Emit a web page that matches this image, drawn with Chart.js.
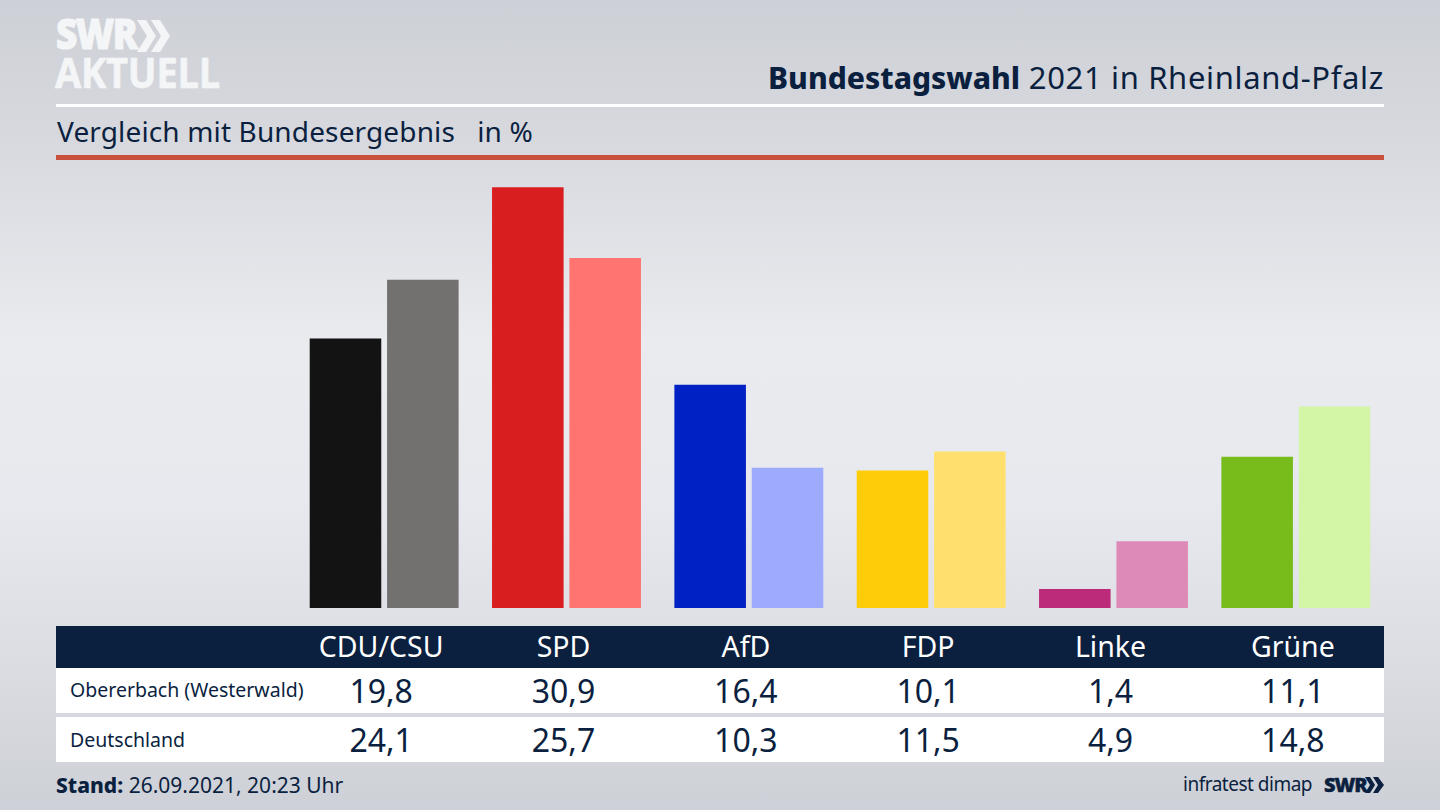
<!DOCTYPE html>
<html lang="de"><head><meta charset="utf-8">
<script src="https://cdn.jsdelivr.net/npm/chart.js@4"></script>
<style>
html,body{margin:0;padding:0}
body{width:1440px;height:810px;overflow:hidden;position:relative;font-family:"Noto Sans",sans-serif;color:#0b1f3f;
background:linear-gradient(180deg,#cdd0d6 0%,#d6d8de 16%,#e9ebef 42%,#e7e9ee 62%,#dcdee4 80%,#cdd0d6 100%)}
.a{position:absolute;white-space:pre;line-height:1}
#chartBox{position:absolute;left:293px;top:160px;width:1094px;height:448px}
.c{transform:translateX(-50%);text-align:center}
.r{transform:translateX(-100%)}
</style></head><body>
<div class="a" style="left:56px;top:16px;font:800 37px/40px 'Open Sans',sans-serif;color:#f4f5f7;letter-spacing:-1.5px;-webkit-text-stroke:1px #f4f5f7;transform:scaleY(1.16);transform-origin:0 100%">SWR</div>
<svg class="a" style="left:137px;top:20px" width="34" height="32"><path d="M0 0H9L19 16L9 32H0L10 16ZM14 0H23L33 16L23 32H14L24 16Z" fill="#f4f5f7"/></svg>
<div class="a" style="left:55px;top:53px;font:700 38px/40px 'Open Sans',sans-serif;color:#f4f5f7;letter-spacing:-.2px;-webkit-text-stroke:.6px #f4f5f7;transform:scaleY(1.09);transform-origin:0 100%">AKTUELL</div>
<div class="a r" style="left:1384px;top:62px;font-size:31px;letter-spacing:.65px"><b style="font-weight:800;font-size:30px;letter-spacing:0">Bundestagswahl</b> 2021 in Rheinland-Pfalz</div>
<div class="a" style="left:56px;top:104px;width:1328px;height:3px;background:#fff"></div>
<div class="a" style="left:57px;top:117px;font-size:28px;letter-spacing:.14px">Vergleich mit Bundesergebnis   in %</div>
<div class="a" style="left:56px;top:155px;width:1328px;height:5px;background:#c9503c"></div>
<div id="chartBox"><canvas id="chart"></canvas></div>
<div class="a" style="left:56px;top:626px;width:1328px;height:42px;background:#0b1f3f"></div>
<div class="a" style="left:56px;top:668px;width:1328px;height:45px;background:#fff"></div>
<div class="a" style="left:56px;top:717px;width:1328px;height:45px;background:#fff"></div>
<div id="table"></div>
<div class="a" style="left:56px;top:775px;font-size:21px"><b style="font-weight:800">Stand:</b> 26.09.2021, 20:23 Uhr</div>
<div class="a r" style="left:1312px;top:775px;font-size:19px;letter-spacing:-.5px">infratest dimap</div>
<div class="a" style="left:1324px;top:773px;font:800 20px/24px 'Open Sans',sans-serif;letter-spacing:-1px;-webkit-text-stroke:.4px #0b1f3f">SWR</div>
<svg class="a" style="left:1365px;top:777px" width="20" height="16"><path d="M0 0H5L10 8L5 16H0L5 8ZM8 0H13L19 8L13 16H8L13 8Z" fill="#0b1f3f"/></svg>
<script>
const categories=["CDU/CSU","SPD","AfD","FDP","Linke","Grüne"];
const rowLabels=["Obererbach (Westerwald)","Deutschland"];
const obererbach=[19.8,30.9,16.4,10.1,1.4,11.1];
const deutschland=[24.1,25.7,10.3,11.5,4.9,14.8];
const colorsLocal=["#131313","#d81e1e","#0021c4","#ffcc0a","#bc2b7a","#78bc1c"];
const colorsNational=["#737170","#ff7370","#9dabff","#ffe06e","#de8ab8","#d2f5a6"];
const fmt=v=>v.toFixed(1).replace(".",",");
const ds=(data,backgroundColor)=>({data,backgroundColor,borderWidth:0,categoryPercentage:.8485,barPercentage:.925});
const chart=new Chart(document.getElementById("chart"),{type:"bar",
 data:{labels:categories,datasets:[ds(obererbach,colorsLocal),ds(deutschland,colorsNational)]},
 options:{responsive:true,maintainAspectRatio:false,animation:false,
  layout:{padding:0},
  plugins:{legend:{display:false},tooltip:{enabled:false}},
  scales:{x:{display:false},y:{display:false,min:0,max:32.9}}}});
const t=document.getElementById("table");
const add=(txt,cls,style)=>{const d=document.createElement("div");d.className="a "+cls;d.textContent=txt;d.style.cssText=style;t.appendChild(d)};
categories.forEach((c,i)=>{
 const x=290+chart.scales.x.getPixelForValue(i);
 add(c,"c",`left:${x}px;top:632px;font-size:28.5px;color:#fff`);
 add(fmt(obererbach[i]),"c",`left:${x}px;top:675px;font-size:32px`);
 add(fmt(deutschland[i]),"c",`left:${x}px;top:724px;font-size:32px`);
});
add(rowLabels[0],"","left:70px;top:680px;font-size:19.5px");
add(rowLabels[1],"","left:70px;top:730px;font-size:19.5px");
</script>
</body></html>
